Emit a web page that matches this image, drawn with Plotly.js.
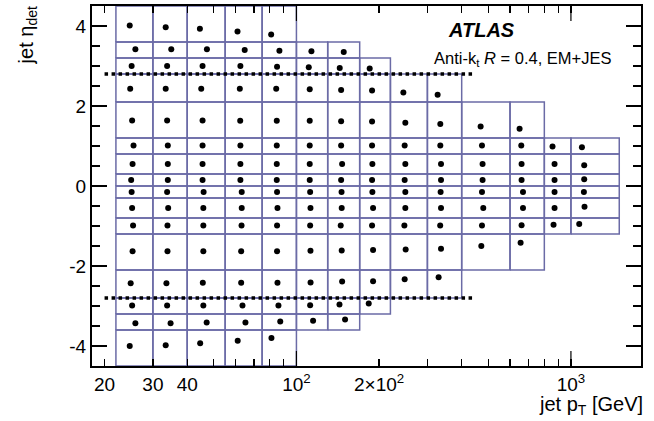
<!DOCTYPE html>
<html>
<head>
<meta charset="utf-8">
<script src="https://cdn.plot.ly/plotly-3.0.1.min.js"></script>
<style>html,body{margin:0;padding:0;background:#fff;}#plot{width:654px;height:421px;}</style>
</head>
<body>
<div id="plot"></div>
<script>
// ---------- DATA ----------
const ptEdges = [22, 30, 40, 55, 75, 100, 130, 170, 220, 300, 400, 600, 800, 1000, 1500];
const etaEdges = [-4.5, -3.6, -3.2, -2.8, -2.1, -1.2, -0.8, -0.3, 0, 0.3, 0.8, 1.2, 2.1, 2.8, 3.2, 3.6, 4.5];
// upper pT edge of the binning in each eta row (rows from bottom to top)
const rowPtMax = [100, 170, 220, 400, 800, 1500, 1500, 1500, 1500, 1500, 1500, 800, 400, 220, 170, 100];

// mean (pT, eta) of each bin, row by row from bottom to top
const dotPtByRow = [
  [24.7, 33.4, 44.6, 61.1, 81.1],
  [25.9, 34.8, 47.1, 65.2, 87.3, 115.0, 150.4],
  [25.2, 33.8, 45.8, 63.6, 86.0, 112.2, 143.5, 183.4],
  [24.9, 33.6, 45.6, 62.9, 85.3, 112.6, 146.7, 190.2, 247.9, 329.6],
  [25.3, 33.9, 45.8, 62.9, 85.0, 112.5, 146.2, 190.2, 250.0, 336.3, 471.6, 655.6],
  [25.4, 33.9, 45.8, 63.1, 85.0, 112.2, 145.0, 188.6, 247.3, 334.0, 474.2, 661.1, 864.3, 1072],
  [25.2, 34.1, 45.8, 63.2, 85.3, 112.5, 146.2, 190.2, 249.3, 336.3, 479.4, 668.9, 871.6, 1120.7],
  [25.1, 33.8, 45.9, 63.2, 85.0, 112.2, 146.0, 189.1, 249.3, 335.2, 474.2, 668.9, 871.6, 1115],
  [25.0, 34.0, 45.5, 62.5, 84.8, 111.8, 145.5, 188.6, 247.9, 336.3, 476.6, 661.1, 871.6, 1117.9],
  [25.3, 34.0, 45.5, 62.5, 84.8, 111.8, 146.7, 189.1, 249.3, 336.3, 476.6, 661.1, 871.6, 1117.9],
  [25.5, 34.0, 45.5, 62.5, 84.8, 111.8, 145.5, 188.6, 247.9, 334.3, 474.2, 659.4, 857.0, 1096.5],
  [25.2, 33.8, 45.5, 62.4, 84.8, 111.8, 145.5, 188.6, 249.3, 334.3, 468.9, 650.1],
  [24.8, 33.4, 45.0, 62.2, 84.4, 111.8, 145.5, 188.6, 245.2, 326.9],
  [25.1, 33.8, 45.5, 62.5, 85.0, 110.9, 143.8, 184.9],
  [25.9, 35.0, 47.2, 64.8, 86.7, 113.4, 148.7],
  [24.7, 33.4, 44.5, 61.0, 80.9]
];
const dotEtaByRow = [
  [-4.00, -3.98, -3.93, -3.87, -3.80],
  [-3.43, -3.43, -3.41, -3.41, -3.39, -3.37, -3.34],
  [-2.99, -2.99, -2.99, -2.99, -2.99, -2.98, -2.96, -2.94],
  [-2.43, -2.43, -2.42, -2.42, -2.42, -2.41, -2.39, -2.38, -2.33, -2.28],
  [-1.63, -1.63, -1.63, -1.63, -1.63, -1.62, -1.61, -1.60, -1.59, -1.57, -1.50, -1.42],
  [-0.99, -0.99, -0.99, -0.99, -0.99, -0.99, -0.99, -0.99, -0.99, -0.99, -0.99, -0.98, -0.97, -0.95],
  [-0.55, -0.55, -0.55, -0.55, -0.55, -0.55, -0.55, -0.55, -0.55, -0.55, -0.55, -0.55, -0.55, -0.52],
  [-0.15, -0.15, -0.15, -0.15, -0.15, -0.15, -0.15, -0.15, -0.15, -0.15, -0.15, -0.15, -0.15, -0.15],
  [0.15, 0.15, 0.15, 0.15, 0.15, 0.15, 0.15, 0.15, 0.15, 0.15, 0.15, 0.15, 0.15, 0.17],
  [0.55, 0.55, 0.55, 0.55, 0.55, 0.55, 0.55, 0.55, 0.55, 0.55, 0.55, 0.55, 0.55, 0.52],
  [1.01, 1.01, 1.01, 1.01, 1.01, 1.01, 1.01, 1.01, 1.01, 1.01, 1.01, 1.01, 0.99, 0.97],
  [1.64, 1.64, 1.64, 1.63, 1.63, 1.63, 1.62, 1.61, 1.58, 1.55, 1.49, 1.43],
  [2.43, 2.43, 2.43, 2.43, 2.43, 2.42, 2.40, 2.39, 2.34, 2.28],
  [3.00, 3.00, 3.00, 3.00, 2.98, 2.97, 2.95, 2.94],
  [3.42, 3.42, 3.42, 3.40, 3.38, 3.37, 3.35],
  [4.01, 3.97, 3.93, 3.86, 3.79]
];

// dotted lines at |eta| = 2.8
const dashPt = [20, 440];
const dashEta = [2.8, -2.8];

// axis ticks and labels
const xLabelVals = [20, 30, 40, 100, 200, 1000];
const xLabelText = ['20', '30', '40', '10<sup>2</sup>', '2\u00d710<sup>2</sup>', '10<sup>3</sup>'];
const xMinorVals = [50, 60, 70, 80, 90, 300, 400, 500, 600, 700, 800, 900];
const xMajorVals = [100, 1000];
const yLabelVals = [-4, -2, 0, 2, 4];
const yLabelText = ['-4', '-2', '0', '2', '4'];
const yMinorVals = [-4.5, -3.5, -3, -2.5, -1.5, -1, -0.5, 0.5, 1, 1.5, 2.5, 3, 3.5, 4.5];

// ---------- BUILD TRACES ----------
const boxX = [], boxY = [];
for (let r = 0; r < etaEdges.length - 1; r++) {
  const lo = etaEdges[r], hi = etaEdges[r + 1];
  for (let i = 0; i < ptEdges.length - 1; i++) {
    if (ptEdges[i + 1] > rowPtMax[r]) break;
    const a = ptEdges[i], b = ptEdges[i + 1];
    boxX.push(a, b, b, a, a, null);
    boxY.push(lo, lo, hi, hi, lo, null);
  }
}
const dotX = [], dotY = [];
dotPtByRow.forEach((row, r) => row.forEach((v, i) => { dotX.push(v); dotY.push(dotEtaByRow[r][i]); }));

const dashX = [], dashY = [];
dashEta.forEach(e => { dashX.push(dashPt[0], dashPt[1], null); dashY.push(e, e, null); });

const traces = [
  {type: 'scatter', mode: 'lines', x: boxX, y: boxY, line: {color: '#6b6ba6', width: 1.5}, hoverinfo: 'skip', connectgaps: false},
  {type: 'scatter', mode: 'lines', x: dashX, y: dashY, line: {color: 'black', width: 3.5, dash: 'dot'}, hoverinfo: 'skip', connectgaps: false},
  {type: 'scatter', mode: 'markers', x: dotX, y: dotY, marker: {color: 'black', size: 6}, hoverinfo: 'skip'}
];

// long ticks at the decades, bottom and top
const shapes = [];
xMajorVals.forEach(v => {
  shapes.push({type: 'line', xref: 'x', yref: 'paper', ysizemode: 'pixel', yanchor: 0, x0: v, x1: v, y0: 0, y1: 15, line: {color: 'black', width: 1.2}});
  shapes.push({type: 'line', xref: 'x', yref: 'paper', ysizemode: 'pixel', yanchor: 1, x0: v, x1: v, y0: 0, y1: -15, line: {color: 'black', width: 1.2}});
});

const xr = [Math.log10(18), Math.log10(1800)];
const yr = [-4.5, 4.5];
const FONT = 'Liberation Sans, Arial, Helvetica, sans-serif';

const layout = {
  width: 654, height: 421,
  margin: {l: 92, r: 13, t: 6, b: 55},
  showlegend: false,
  font: {family: FONT, color: '#000', size: 19},
  xaxis: {
    type: 'log', range: xr, tickmode: 'array', tickvals: xLabelVals, ticktext: xLabelText,
    ticks: 'inside', ticklen: 7, tickwidth: 1.2, tickcolor: '#000',
    minor: {tickmode: 'array', tickvals: xMinorVals, ticks: 'inside', ticklen: 7, tickwidth: 1.2, tickcolor: '#000'},
    showline: true, linecolor: '#000', linewidth: 2, mirror: 'allticks',
    showgrid: false, zeroline: false, tickfont: {size: 19, family: FONT}
  },
  yaxis: {
    range: yr, tickmode: 'array', tickvals: yLabelVals, ticktext: yLabelText,
    ticks: 'inside', ticklen: 15, tickwidth: 1.2, tickcolor: '#000',
    minor: {tickmode: 'array', tickvals: yMinorVals, ticks: 'inside', ticklen: 8, tickwidth: 1.2, tickcolor: '#000'},
    showline: true, linecolor: '#000', linewidth: 2, mirror: 'ticks',
    showgrid: false, zeroline: false, tickfont: {size: 19, family: FONT}
  },
  shapes: shapes,
  annotations: [
    {text: '<b><i>ATLAS</i></b>', xref: 'paper', yref: 'paper', x: 0.7741, y: 0.9333,
     xanchor: 'right', yanchor: 'middle', showarrow: false, font: {size: 20, family: FONT}},
    {text: 'Anti-k<sub>t</sub> <i>R</i> = 0.4, EM+JES', xref: 'paper', yref: 'paper', x: 0.949, y: 0.853,
     xanchor: 'right', yanchor: 'middle', showarrow: false, font: {size: 16.5, family: FONT}},
    {text: 'jet p<sub>T</sub> [GeV]', xref: 'paper', yref: 'paper', x: 1.007, y: -0.07,
     xanchor: 'right', yanchor: 'top', showarrow: false, font: {size: 20, family: FONT}},
    {text: 'jet \u03b7<sub>det</sub>', xref: 'paper', yref: 'paper', x: -0.118, y: 1.005,
     xanchor: 'center', yanchor: 'top', textangle: -90, showarrow: false, font: {size: 20, family: FONT}}
  ]
};

Plotly.newPlot('plot', traces, layout, {staticPlot: true, displayModeBar: false});
</script>
</body>
</html>
